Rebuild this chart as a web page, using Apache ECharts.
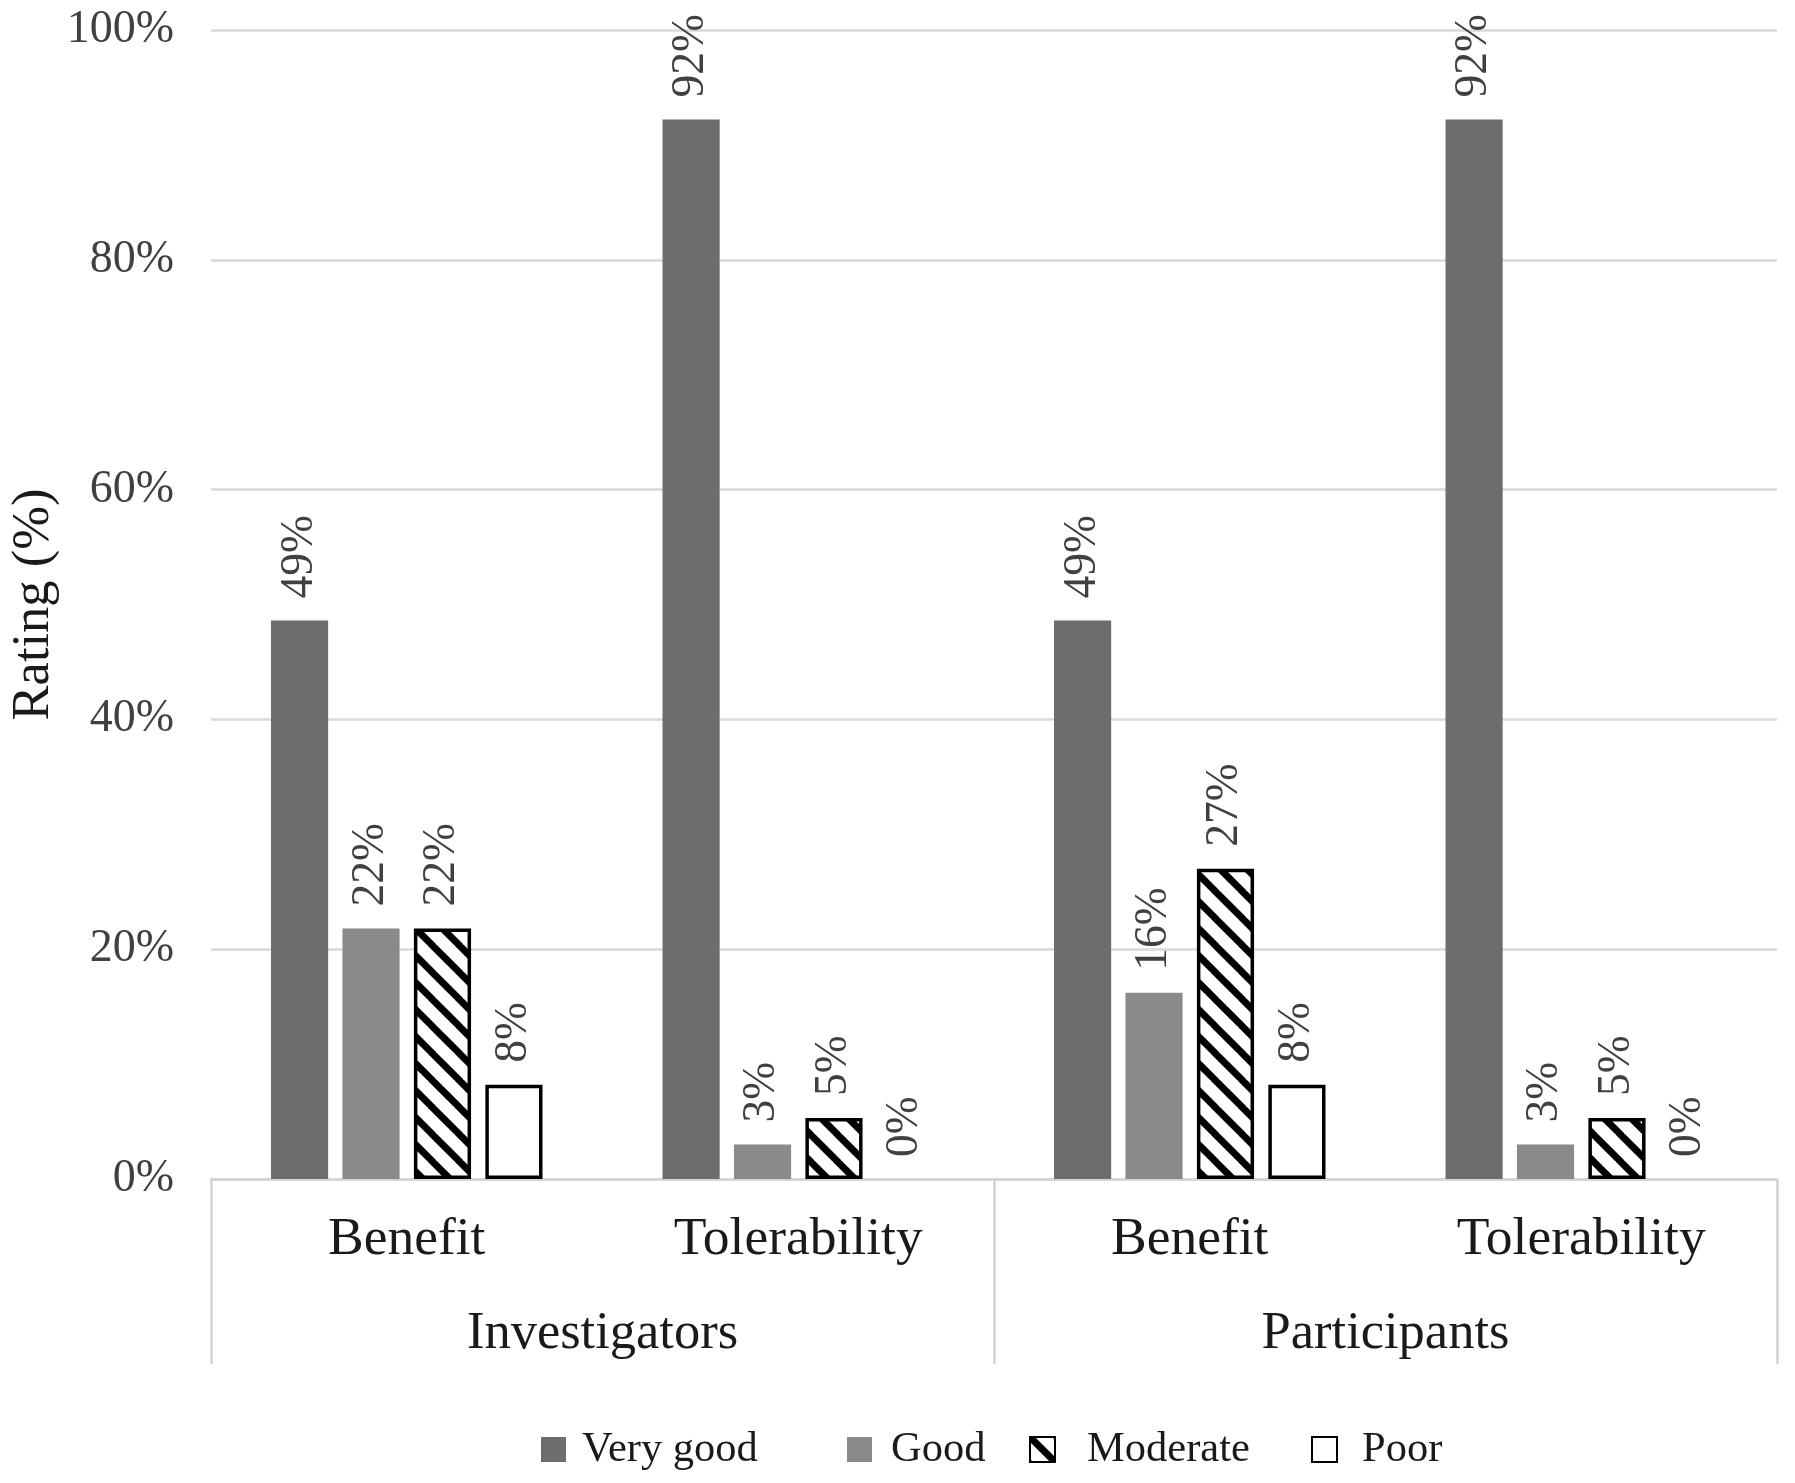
<!DOCTYPE html>
<html>
<head>
<meta charset="utf-8">
<style>
  html, body { margin: 0; padding: 0; background: #fff; }
  #chart { width: 1795px; height: 1483px; }
</style>
<script src="https://cdn.jsdelivr.net/npm/echarts@6/dist/echarts.min.js"></script>
</head>
<body>
<div id="chart"></div>
<script>
// ---- data ----
const categories = ['Benefit', 'Tolerability', 'Benefit', 'Tolerability'];
const groups = ['Investigators', 'Participants'];
const seriesNames = ['Very good', 'Good', 'Moderate', 'Poor'];
const veryGood = [48.6, 92.2, 48.6, 92.2];
const good = [21.8, 3.0, 16.2, 3.0];
const moderate = [21.8, 5.3, 27.0, 5.3];
const poor = [8.2, 0, 8.2, 0];
const yTicks = [0, 20, 40, 60, 80, 100];

// ---- stripe pattern for "Moderate" ----
function makeStripe() {
  const s = 27;
  const c = document.createElement('canvas');
  c.width = s; c.height = s;
  const ctx = c.getContext('2d');
  ctx.fillStyle = '#fff';
  ctx.fillRect(0, 0, s, s);
  ctx.strokeStyle = '#000';
  ctx.lineWidth = 7;
  for (let k = -1; k <= 1; k++) {
    ctx.beginPath();
    ctx.moveTo(k * s - 2, -2);
    ctx.lineTo(k * s + s + 2, s + 2);
    ctx.stroke();
  }
  return c;
}
const stripe = makeStripe();

const FONT = '"Liberation Serif", "Times New Roman", serif';

const labelCfg = {
  show: true,
  position: 'top',
  rotate: 90,
  align: 'left',
  verticalAlign: 'middle',
  distance: 22,
  fontFamily: FONT,
  fontSize: 45.5,
  color: '#404040',
  formatter: p => Math.round(p.value) + '%'
};

const styles = [
  { color: '#6d6d6d' },
  { color: '#8a8a8a' },
  { color: { image: stripe, repeat: 'repeat' }, borderColor: '#000', borderWidth: 3.5 },
  { color: '#ffffff', borderColor: '#000', borderWidth: 3.5 }
];
const values = [veryGood, good, moderate, poor];

const series = seriesNames.map((name, i) => ({
  name: name,
  type: 'bar',
  xAxisIndex: 0,
  barWidth: '14.6%',
  barGap: '25%',
  itemStyle: styles[i],
  label: labelCfg,
  emphasis: { disabled: true },
  data: values[i].map(v => (v === 0 && styles[i].borderWidth) ? { value: v, itemStyle: { borderWidth: 0 } } : v)
}));

const legendLefts = [536, 842, 1024, 1306];
const legendPads = [11, 14, 27, 20];
const legends = seriesNames.map((n, i) => ({
  data: [n],
  left: legendLefts[i],
  top: 1423,
  icon: 'rect',
  itemWidth: 25,
  itemHeight: 25,
  selectedMode: false,
  textStyle: { fontFamily: FONT, fontSize: 42.5, color: '#1a1a1a', padding: [0, 0, 0, legendPads[i]] }
}));

const option = {
  animation: false,
  backgroundColor: '#ffffff',
  grid: { left: 208, right: 18, top: 30, bottom: 304, containLabel: false },
  legend: legends,
  xAxis: [
    {
      type: 'category',
      data: categories,
      position: 'bottom',
      axisLine: { show: true, lineStyle: { color: '#d3d3d3', width: 2.5 } },
      axisTick: { show: false },
      axisLabel: { margin: 34, fontFamily: FONT, fontSize: 53.5, color: '#1a1a1a' }
    },
    {
      type: 'category',
      data: groups,
      position: 'bottom',
      axisLine: { show: false },
      axisTick: { show: true, length: 185, lineStyle: { color: '#d3d3d3', width: 2.5 } },
      axisLabel: { margin: 129, fontFamily: FONT, fontSize: 52.5, color: '#1a1a1a' },
      splitLine: { show: false }
    }
  ],
  yAxis: {
    type: 'value',
    min: yTicks[0],
    max: yTicks[yTicks.length - 1],
    interval: 20,
    name: 'Rating (%)',
    nameLocation: 'middle',
    nameRotate: 90,
    nameGap: 150,
    nameMoveOverlap: false,
    nameTextStyle: { fontFamily: FONT, fontSize: 52.5, color: '#1a1a1a' },
    axisLine: { show: false },
    axisTick: { show: false },
    axisLabel: { margin: 37, fontFamily: FONT, fontSize: 46, color: '#404040', formatter: '{value}%' },
    splitLine: { lineStyle: { color: '#d9d9d9', width: 2.5 } }
  },
  series: series
};

const chart = echarts.init(document.getElementById('chart'), null, { renderer: 'canvas' });
chart.setOption(option);
</script>
</body>
</html>
